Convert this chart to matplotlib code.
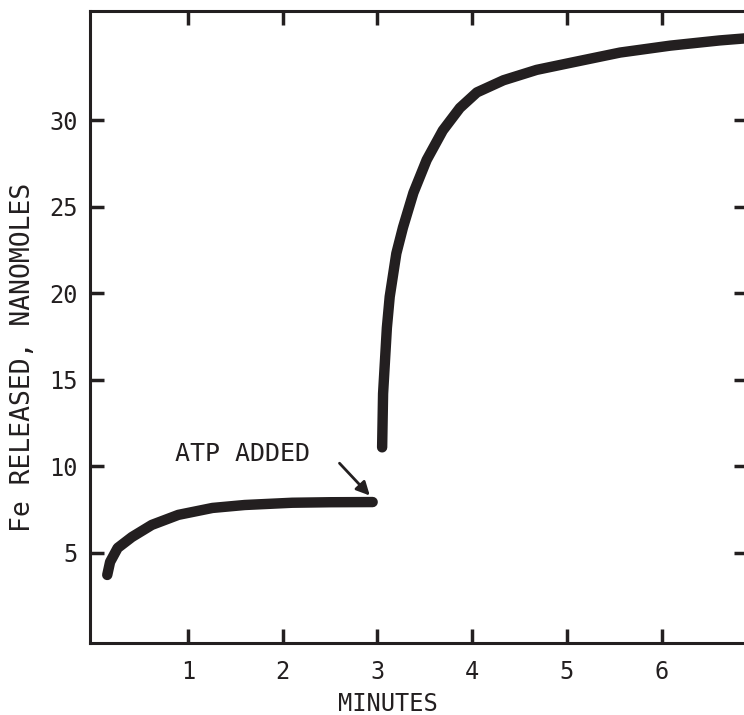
import matplotlib.pyplot as plt

# iron released before ATP addition
t_before = [0.15, 0.18, 0.26, 0.41, 0.62, 0.90, 1.26, 1.60, 2.10, 2.50, 2.95]
fe_before = [3.73, 4.48, 5.29, 5.92, 6.62, 7.20, 7.60, 7.77, 7.90, 7.93, 7.94]

# iron released after ATP addition
t_after = [3.05, 3.06, 3.10, 3.13, 3.20, 3.27, 3.38, 3.52, 3.69, 3.87, 4.05,
           4.33, 4.68, 5.03, 5.56, 6.09, 6.61, 6.95]
fe_after = [11.1, 14.2, 18.0, 19.8, 22.3, 23.8, 25.8, 27.7, 29.4, 30.7, 31.6,
            32.3, 32.9, 33.3, 33.9, 34.3, 34.6, 34.75]

x_ticks = [1, 2, 3, 4, 5, 6]
y_ticks = [5, 10, 15, 20, 25, 30]

plt.rcParams['font.family'] = ['DejaVu Sans Mono']
ink = '#231f20'

fig = plt.figure(figsize=(7.44, 7.15), dpi=100)
ax = fig.add_axes([90 / 744, 72 / 715, 658 / 744, 632 / 715])

ax.plot(t_before, fe_before, color=ink, lw=7.5, solid_capstyle='round',
        solid_joinstyle='round')
ax.plot(t_after, fe_after, color=ink, lw=7.5, solid_capstyle='round',
        solid_joinstyle='round')

ax.text(1.58, 10.7, 'ATP ADDED', ha='center', va='center', fontsize=18, color=ink)
ax.annotate('', xy=(2.94, 8.2), xytext=(2.58, 10.3),
            arrowprops=dict(arrowstyle='-|>', color=ink, lw=2,
                            mutation_scale=20))

ax.set_xlim(-0.032, 6.91)
ax.set_ylim(-0.2, 36.3)
ax.set_xticks(x_ticks)
ax.set_yticks(y_ticks)
ax.tick_params(direction='in', length=10, width=2.5, labelsize=17,
               top=True, right=True, color=ink, labelcolor=ink)
ax.tick_params(axis='x', pad=12)
ax.tick_params(axis='y', pad=9)
for s in ax.spines.values():
    s.set_linewidth(2.2)
    s.set_color(ink)

ax.set_xlabel('MINUTES', fontsize=17, color=ink, va='center')
ax.xaxis.set_label_coords(0.453, -0.097)
ax.set_ylabel('Fe RELEASED, NANOMOLES', fontsize=19, color=ink)
ax.yaxis.set_label_coords(-0.082, 0.4525)

fig.savefig('out.png', dpi=100)
